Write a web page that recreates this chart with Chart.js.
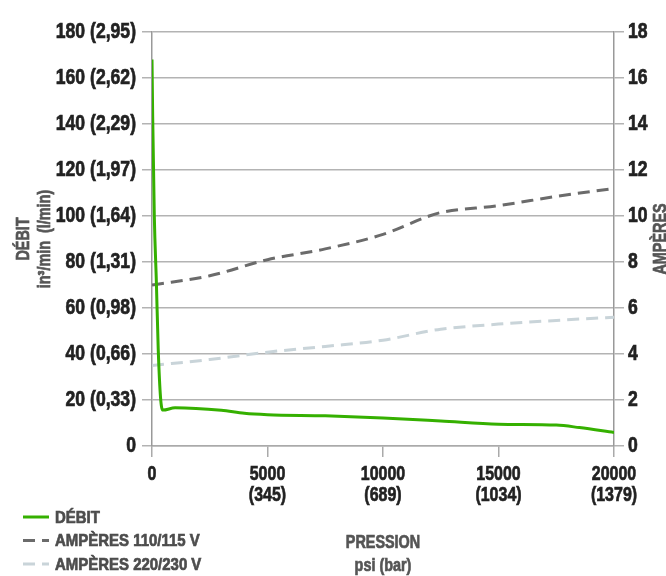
<!DOCTYPE html>
<html>
<head>
<meta charset="utf-8">
<script src="https://cdn.jsdelivr.net/npm/chart.js@4/dist/chart.umd.min.js"></script>
<style>
  html, body { margin: 0; padding: 0; background: #fff; }
  #wrap { position: relative; width: 666px; height: 576px; }
</style>
</head>
<body>
<div id="wrap"><canvas id="myChart"></canvas></div>
<script>
// values
var flowPsi = [0, 30, 100, 190, 270, 370, 470, 1000, 3000, 4000, 5000, 7500, 10000, 12500, 15000, 17500, 18500, 20000];
var flowValues = [168, 143, 100, 71, 42, 21, 15.6, 16.6, 15.5, 14.2, 13.6, 13.1, 12.2, 10.9, 9.5, 9.1, 8.0, 5.9];

var ampPsi = [0, 2500, 5000, 7500, 10000, 12000, 12500, 15000, 17500, 20000];
var amp110Values = [7.0, 7.4, 8.1, 8.57, 9.2, 10.0, 10.15, 10.45, 10.85, 11.2];
var amp220Values = [3.5, 3.76, 4.08, 4.33, 4.6, 5.0, 5.08, 5.3, 5.46, 5.6];

var seriesLabels = ["DÉBIT", "AMPÈRES 110/115 V", "AMPÈRES 220/230 V"];

var flowTicks = [0, 20, 40, 60, 80, 100, 120, 140, 160, 180];
var flowTickLabels = ["0", "20 (0,33)", "40 (0,66)", "60 (0,98)", "80 (1,31)", "100 (1,64)", "120 (1,97)", "140 (2,29)", "160 (2,62)", "180 (2,95)"];
var psiTicks = [0, 5000, 10000, 15000, 20000];
var barTickLabels = ["", "(345)", "(689)", "(1034)", "(1379)"];

var flowTitle = ["DÉBIT", "in³/min  (l/min)"];
var pressureTitle = ["PRESSION", "psi (bar)"];
var ampTitle = "AMPÈRES";

var FONT = "'Liberation Sans', Arial, sans-serif";
// no condensed face installed, so text is squeezed sideways (by font size)
var squeezeBySize = { 22: 0.8, 21: 0.76, 18: 0.8, 17: 0.88 };

function toPoints(xs, ys) {
  return xs.map(function (x, i) { return { x: x, y: ys[i] }; });
}

document.addEventListener("DOMContentLoaded", function () {
  var ctx = document.getElementById("myChart").getContext("2d");

  var rawFillText = ctx.fillText;
  ctx.fillText = function (text, x, y, maxWidth) {
    var m = /(\d+)px/.exec(this.font);
    var k = (m && squeezeBySize[m[1]]) || 1;
    this.save();
    this.translate(x, y);
    this.scale(k, 1);
    if (maxWidth === undefined) rawFillText.call(this, text, 0, 0);
    else rawFillText.call(this, text, 0, 0, maxWidth / k);
    // a hairline stroke makes it look heavier, like the original
    this.setLineDash([]);
    this.lineWidth = 0.7;
    this.strokeStyle = this.fillStyle;
    this.strokeText(text, 0, 0);
    this.restore();
  };

  // vertical legend in the bottom left corner
  var sideLegend = {
    id: "sideLegend",
    afterDraw: function (chart) {
      var c = chart.ctx;
      var rows = [517, 540.5, 564];
      c.save();
      c.font = "bold 17px " + FONT;
      c.textBaseline = "middle";
      chart.data.datasets.forEach(function (ds, i) {
        var y = rows[i];
        c.beginPath();
        c.setLineDash(ds.borderDash || []);
        c.lineWidth = ds.borderWidth;
        c.strokeStyle = ds.borderColor;
        c.moveTo(23, y);
        c.lineTo(49, y);
        c.stroke();
        c.setLineDash([]);
        c.fillStyle = "#4d4d4d";
        c.fillText(ds.label, 55, y + 1);
      });
      c.restore();
    },
  };

  // right axis title reads bottom to top like the left one
  var rightTitle = {
    id: "rightTitle",
    afterDraw: function (chart) {
      var c = chart.ctx;
      var a = chart.chartArea;
      c.save();
      c.translate(661, (a.top + a.bottom) / 2);
      c.rotate(-Math.PI / 2);
      c.font = "bold 18px " + FONT;
      c.fillStyle = "#555";
      c.textAlign = "center";
      c.textBaseline = "middle";
      c.fillText(ampTitle, 0, 0);
      c.restore();
    },
  };

  var myChart = new Chart(ctx, {
    type: "line",
    data: {
      datasets: [
        {
          label: seriesLabels[0],
          data: toPoints(flowPsi, flowValues),
          yAxisID: "y",
          borderColor: "#35b000",
          borderWidth: 3,
          pointRadius: 0,
          cubicInterpolationMode: "monotone",
        },
        {
          label: seriesLabels[1],
          data: toPoints(ampPsi, amp110Values),
          yAxisID: "y2",
          borderColor: "#6b6b6b",
          borderWidth: 3,
          borderDash: [12, 7],
          pointRadius: 0,
          cubicInterpolationMode: "monotone",
        },
        {
          label: seriesLabels[2],
          data: toPoints(ampPsi, amp220Values),
          yAxisID: "y2",
          borderColor: "#c9d4d9",
          borderWidth: 3,
          borderDash: [12, 7],
          pointRadius: 0,
          cubicInterpolationMode: "monotone",
        },
      ],
    },
    options: {
      responsive: true,
      maintainAspectRatio: false,
      animation: false,
      layout: { padding: { top: 32, left: 0, right: 0, bottom: 0 } },
      plugins: {
        legend: { display: false },
        tooltip: { enabled: false },
      },
      scales: {
        x: {
          type: "linear",
          min: 0,
          max: 20000,
          afterFit: function (s) { s.height = 130; },
          afterBuildTicks: function (s) {
            s.ticks = psiTicks.map(function (v) { return { value: v }; });
          },
          ticks: {
            color: "#222",
            padding: 7,
            autoSkip: false,
            font: { family: FONT, size: 21, weight: "bold", lineHeight: 1.0 },
            maxRotation: 0,
            callback: function (v) {
              var i = psiTicks.indexOf(v);
              return barTickLabels[i] ? [String(v), barTickLabels[i]] : String(v);
            },
          },
          grid: { drawOnChartArea: false, tickLength: 11, color: "#aaa", lineWidth: 1.5 },
          border: { color: "#aaa", width: 1.5 },
          title: {
            display: true,
            text: pressureTitle,
            color: "#555",
            padding: { top: 0, bottom: -2 },
            font: { family: FONT, size: 18, weight: "bold", lineHeight: 1.3 },
          },
        },
        y: {
          position: "left",
          min: 0,
          max: 180,
          afterFit: function (s) { s.width = 152; },
          afterBuildTicks: function (s) {
            s.ticks = flowTicks.map(function (v) { return { value: v }; });
          },
          ticks: {
            color: "#222",
            padding: 6,
            font: { family: FONT, size: 22, weight: "bold" },
            callback: function (v) { return flowTickLabels[flowTicks.indexOf(v)]; },
          },
          grid: { tickLength: 10, color: "#b3b3b3", lineWidth: 1.5 },
          border: { color: "#999", width: 1.5 },
          title: {
            display: true,
            text: flowTitle,
            color: "#555",
            padding: { top: 13, bottom: 0 },
            font: { family: FONT, size: 18, weight: "bold", lineHeight: 1.2 },
          },
        },
        y2: {
          position: "right",
          min: 0,
          max: 18,
          afterFit: function (s) { s.width = 52; },
          ticks: {
            stepSize: 2,
            color: "#222",
            padding: 4,
            font: { family: FONT, size: 22, weight: "bold" },
          },
          grid: { drawOnChartArea: false, tickLength: 10, color: "#b3b3b3", lineWidth: 1.5 },
          border: { color: "#999", width: 1.5 },
        },
      },
    },
    plugins: [sideLegend, rightTitle],
  });
});
</script>
</body>
</html>
